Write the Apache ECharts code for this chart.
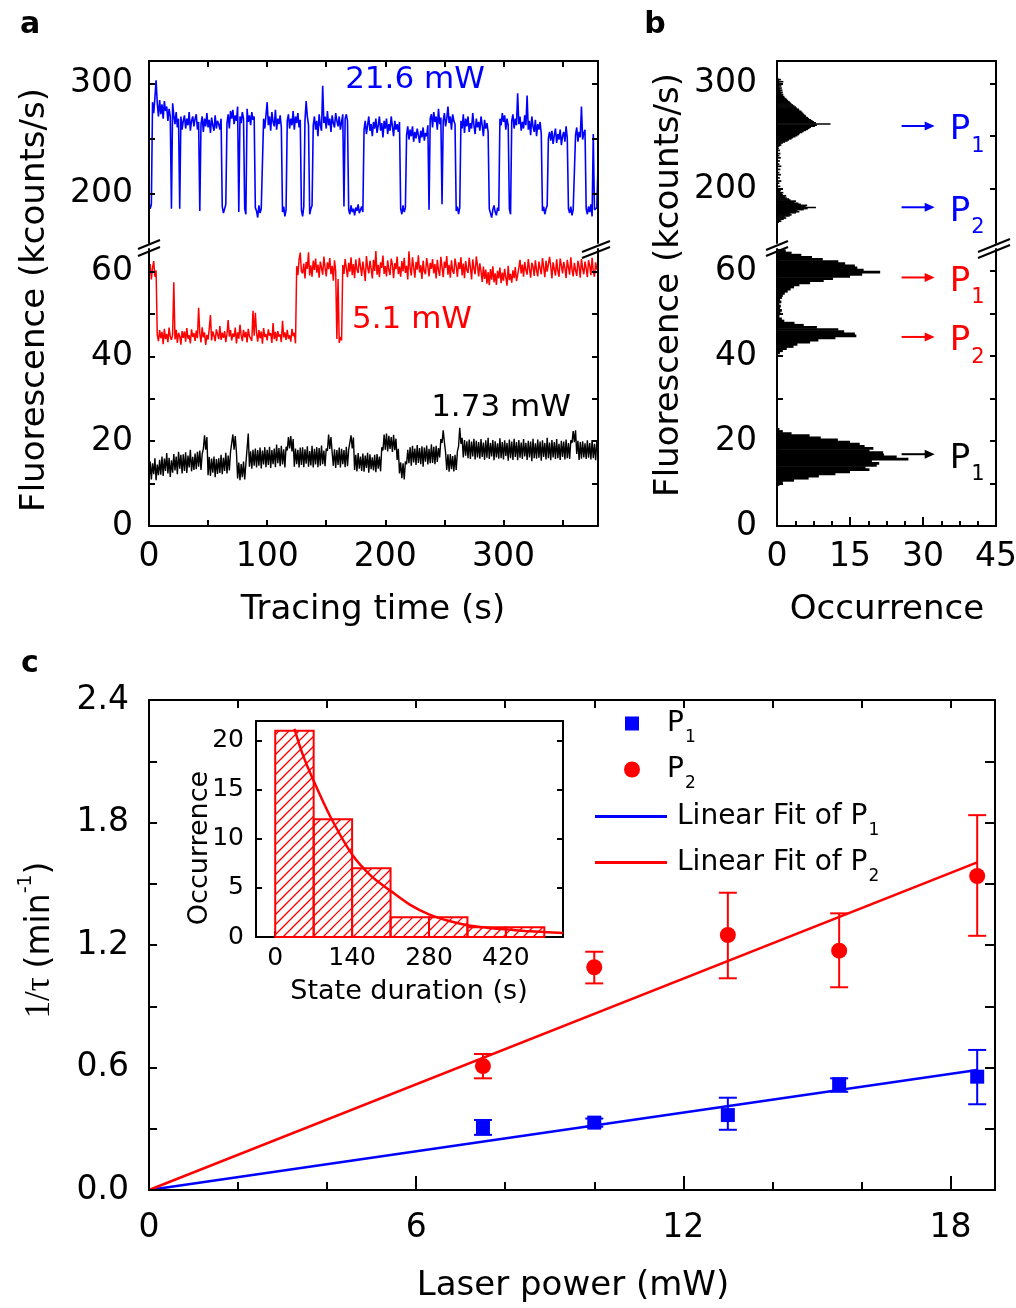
<!DOCTYPE html>
<html><head><meta charset="utf-8">
<script src="https://cdn.jsdelivr.net/npm/echarts@6/dist/echarts.min.js"></script>
<style>html,body{margin:0;padding:0;background:#fff}#c{width:1016px;height:1308px}</style>
</head><body><div id="c"></div>
<script>
// ---------------- DATA ----------------
// Panel a: fluorescence traces, one value per second (0..380 s)
const TRACE_DT = 1;
const blueTrace = [
192,186,190,283,273,287,303,282,270,285, 272,281,268,284,275,279,266,277,270,186,
282,271,263,274,260,268,186,270,258,266, 271,259,268,262,274,257,266,270,261,268,
272,258,265,184,263,270,256,268,261,273, 260,267,255,269,262,257,271,259,266,263,
258,268,188,182,186,190,264,272,259,275, 268,276,263,271,266,279,183,270,264,274,
268,186,181,277,265,271,262,274,267,270, 187,184,178,189,182,186,185,268,259,271,
283,262,270,257,274,265,261,276,258,268, 263,271,260,183,188,179,185,266,272,259,
268,262,275,258,270,264,273,260,267,185, 179,188,266,284,270,262,181,186,189,262,
270,258,266,252,272,262,257,298,264,270, 259,275,262,268,256,271,264,260,273,266,
261,270,258,265,272,188,268,272,266,185, 181,189,183,186,180,187,184,190,182,185,
188,183,258,266,254,262,270,257,263,252, 265,259,268,255,262,270,257,264,251,266,
259,268,254,263,257,270,261,252,266,258, 263,256,265,186,181,189,183,187,253,261,
249,258,252,261,247,256,250,259,253,246, 257,251,260,248,255,252,262,185,268,272,
260,274,265,270,258,277,263,269,190,266, 273,261,268,279,264,270,258,272,266,263,
184,188,181,187,266,259,272,255,268,261, 270,256,264,259,273,262,254,268,260,265,
257,270,262,252,267,259,264,256,186,182, 178,185,189,183,180,187,184,268,262,273,
265,271,258,268,262,186,181,266,272,259, 268,262,291,263,270,257,265,259,271,262,
289,258,266,253,270,261,256,267,252,263, 258,265,254,184,188,181,186,189,250,256,
248,257,245,253,259,246,254,249,258,244, 252,256,247,261,250,186,182,188,180,185,
184,253,260,247,256,251,279,249,255,258, 186,181,188,183,190,179,254,185,184,187,225];
const redTrace = [
59.5,61.8,58.2,60.9,62.5,58.8,60.3,45.1,43.6,46.2, 44.3,45.8,42.9,46.5,44.1,45.3,43.4,46.8,44.7,43.9,
45.2,57.5,44.0,46.3,43.2,45.6,44.8,42.8,46.0,44.4, 45.9,43.5,46.7,44.2,45.0,43.1,46.4,44.6,45.5,43.7,
46.1,44.3,51.5,45.4,43.3,46.9,44.5,45.7,42.7,45.1, 44.0,46.6,49.8,43.8,45.9,44.9,43.6,46.4,45.2,44.1,
47.2,43.9,45.6,44.4,46.0,43.4,45.3,48.6,44.7,46.2, 43.8,45.4,44.6,46.8,43.1,45.7,44.2,47.5,45.0,43.6,
46.3,44.5,45.8,43.3,46.5,44.8,45.1,43.7,50.8,44.9, 50.3,45.6,43.5,46.2,44.3,45.9,43.0,46.7,44.6,45.3,
43.8,46.4,44.9,45.5,43.2,47.9,44.1,45.8,43.6,46.0, 44.7,45.2,43.4,48.4,44.5,45.7,43.9,46.3,44.2,45.0,
43.5,46.5,44.8,45.6,43.1,61.3,59.2,62.8,64.5,60.1, 59.6,61.9,58.4,62.3,60.7,64.6,59.1,61.5,58.8,62.6,
60.4,63.1,59.8,61.7,58.6,62.4,60.9,59.3,63.6,61.0, 58.9,62.2,60.6,63.2,59.4,61.4,57.9,62.7,60.2,44.1,
58.3,43.2,44.6,43.8,61.6,59.5,63.0,60.8,58.7,62.1, 60.0,63.4,59.2,61.8,58.5,62.9,60.5,59.7,63.3,61.2,
59.0,62.4,60.3,57.8,63.7,61.1,59.6,62.6,60.7,58.4, 62.8,60.2,64.9,59.3,61.6,58.7,62.2,60.9,63.8,59.5,
61.3,58.9,62.7,60.4,59.2,63.1,61.7,58.5,62.0,60.6, 63.6,59.4,61.2,58.8,62.5,60.1,63.3,59.7,61.4,58.2,
64.8,60.8,59.1,63.4,61.0,58.6,62.3,60.5,63.9,59.8, 61.5,58.3,62.6,60.0,59.4,63.2,61.3,58.9,62.1,60.7,
63.0,59.6,61.8,58.4,62.8,60.3,59.0,63.5,61.1,58.7, 62.4,60.9,63.7,59.3,61.6,58.6,62.7,60.2,59.5,63.1,
61.4,58.8,62.2,60.6,63.4,59.1,61.9,58.5,62.5,60.4, 59.7,63.3,61.0,58.2,62.9,60.8,59.4,63.6,61.5,58.9,
62.0,60.1,57.6,61.2,58.3,60.5,57.2,59.9,56.8,60.6, 58.1,61.3,57.5,59.6,56.9,60.2,58.4,61.0,57.3,59.8,
57.9,60.7,58.6,56.7,61.4,58.0,59.5,57.4,60.3,58.5, 61.1,57.8,59.2,60.9,62.8,59.6,61.7,58.8,62.3,60.4,
59.3,63.0,60.7,58.6,62.1,61.2,59.0,62.7,60.3,58.9, 62.4,60.8,59.4,63.2,61.1,58.7,62.6,60.0,59.8,63.5,
61.3,58.4,62.2,60.6,59.1,62.9,60.2,58.8,63.1,61.5, 59.6,62.3,60.9,58.5,62.8,61.0,59.3,63.4,60.5,58.9,
62.1,60.4,59.0,62.6,61.2,58.6,63.0,60.7,59.4,62.4, 60.8,58.7,62.7,61.4,59.2,63.3,60.1,58.8,62.2,60.5,61.6];
const blackTrace = [
10.5,15.2,11.0,14.8,12.2,16.0,10.8,14.5,12.0,15.6, 12.1,16.4,11.8,15.9,13.0,17.2,12.4,16.1,11.6,15.5,
12.6,17.0,13.1,16.4,12.2,17.5,13.5,16.8,12.4,16.9, 13.0,17.4,12.5,16.6,13.8,18.0,12.9,16.3,13.2,17.1,
13.4,17.5,14.0,17.8,13.2,17.0,18.2,21.4,18.0,21.0, 12.0,16.3,11.8,15.9,12.6,16.4,11.5,15.8,12.3,16.0,
12.5,16.8,12.2,16.1,13.0,17.3,12.4,16.6,13.1,17.5, 17.5,21.6,18.0,21.2,17.4,11.2,15.0,10.8,14.6,11.5,
15.2,11.0,14.7,18.2,21.8,14.0,17.6,13.5,18.0,14.2, 18.3,13.8,17.9,14.2,18.5,13.6,17.8,14.5,18.6,13.9,
18.0,14.4,18.7,13.7,17.9,14.6,18.3,13.9,19.2,14.8, 18.4,14.1,18.9,14.5,18.1,13.8,18.7,17.8,21.0,18.3,
21.2,17.6,20.5,14.0,18.3,14.6,18.0,13.8,18.5,14.4, 18.6,13.9,18.1,14.7,18.8,14.0,17.7,14.3,18.9,13.8,
18.2,14.5,18.6,13.9,18.4,14.2,19.0,14.6,17.8,14.1, 18.3,17.7,21.6,18.2,21.0,17.4,14.2,18.1,13.7,17.9,
14.4,18.5,13.8,18.2,14.6,17.9,13.9,18.7,14.1,18.0, 18.0,21.4,18.3,20.9,13.2,16.8,12.9,17.2,13.5,16.4,
13.0,17.1,12.8,16.6,13.7,17.3,12.6,16.9,13.4,16.2, 13.1,16.8,12.7,17.0,13.5,16.4,12.9,18.6,17.8,21.6,
18.0,21.8,17.6,21.3,18.2,21.0,17.5,21.5,17.9,20.6, 15.6,18.2,12.4,15.0,11.3,14.8,11.0,15.2,14.6,18.0,
14.8,18.6,14.2,18.9,15.0,18.3,14.4,19.1,14.9,18.4, 14.6,18.8,14.0,18.5,15.2,19.0,14.5,18.2,14.8,19.3,
14.9,18.7,14.6,18.9,15.1,18.4,16.2,20.5,19.6,22.6, 19.8,17.4,13.2,16.9,12.8,17.0,13.4,16.5,12.9,16.8,
13.2,17.6,18.8,23.2,19.4,20.8,16.2,20.3,16.6,20.0, 16.0,20.4,15.8,19.9,16.4,20.6,15.7,20.1,16.2,19.8,
15.9,20.5,16.3,19.7,15.6,20.2,16.1,20.8,15.8,19.6, 16.4,20.3,15.5,20.0,16.2,19.5,15.9,20.7,16.0,19.8,
15.7,20.2,16.5,19.6,15.4,20.4,16.0,19.9,15.6,20.6, 16.3,19.8,15.5,20.3,16.1,19.7,15.8,20.5,16.4,19.6,
15.6,20.1,16.2,19.9,15.3,20.6,16.0,19.5,15.9,20.4, 16.1,19.9,15.4,20.2,16.3,19.6,15.7,20.8,16.0,19.7,
15.5,20.3,16.2,19.8,15.8,20.5,16.0,19.4,15.6,20.1, 16.3,19.9,15.7,20.4,16.0,19.6,15.8,20.2,19.6,22.4,
19.8,22.6,17.0,20.1,15.6,19.8,15.9,20.0,16.2,19.5, 15.8,20.2,16.1,19.6,15.7,20.3,16.0,19.4,15.5,19.9,17.6];

// Panel b: histograms (occurrence per fluorescence bin)
const histUpperStart = 168, histUpperBin = 1;
const histUpper = [
0.4,0.9,0.7,1.4,1.9,1.6,2.6,3.0,2.7,3.9,4.6,4.2,5.5,6.3,8.0,5.9,6.2,4.9,4.4,3.6,3.9,2.8,2.5,2.0,1.6,1.9,1.2,1.0,1.3,0.6,0.8,
0.4,0,0,0.7,0,0,0.5,0,0.9,0, 0,0.6,0,0,0.8,0,0.5,0,0,0.7, 0,0,0.9,0,0.5,0,0,0.6,0,0, 0.8,0,0.5,0,0.7,0,0,0.6,0,0.4, 0,
0.5,0.9,0.8,1.2,1.7,2.2,2.5,3.0,3.3,3.8, 4.2,4.5,4.7,5.2,5.5,6.0,6.4,6.7,7.0,7.8,
8.2,11.0,8.0,7.6,7.3,7.0,6.6,6.4,6.0,5.9, 5.6,5.4,5.2,5.0,4.6,4.5,4.1,3.9,3.6,3.3,
3.0,2.8,2.6,2.3,2.1,1.9,1.6,1.5,1.2,1.3, 0.9,1.2,0.7,1.1,0.6,1.0,0.5,0.9,0.4,0.8, 0.5,1.3,0.4,0.8,0.3];
const histLowBin = 0.5;
const histBlackStart = 9.5;
const histBlack = [0.5,1.2,3.5,6.5,8.6,12.0,15.0,19.0,18.2,20.5,21.0,19.5,27.0,24.6,22.0,21.8,19.0,19.8,18.0,17.0,15.0,12.5,9.0,6.7,3.0,1.2,0.5];
const histRedStart = 40.5;
const histRed = [0.6,1.2,2.0,3.4,4.2,6.8,8.5,12.0,16.3,16.0,13.8,12.6,8.2,5.5,3.6,1.5,1.0,0.5,
0.5,0.7,1.0,0.6,0.8,0.5,0.9,0.6,1.0,1.2,1.6,2.2,2.8,3.5,4.6,6.8,9.6,11.5,15.0,17.5,21.2,17.8,16.5,16.0,14.0,12.6,9.4,7.2,5.0,3.0,1.8,0.9];
// Panel b: arrow annotations
const ARROW_X = [25.6, 32.4];
const ARROW_LABEL_X = 35.5;
const arrowUpperY = [259.6, 182.7];
const arrowUpperSub = ['1', '2'];
const arrowUpperColor = ['#0000ff', '#0000ff'];
const arrowLowerY = [58.5, 44.5, 16.9];
const arrowLowerSub = ['1', '2', '1'];
const arrowLowerColor = ['#ff0000', '#ff0000', '#000000'];

// Panel c: 1/tau vs laser power
const laserPower = [7.5, 10.0, 13.0, 15.5, 18.6];
const p1Rate = [0.305, 0.330, 0.367, 0.518, 0.555];
const p1Low  = [0.270, 0.310, 0.295, 0.481, 0.420];
const p1High = [0.343, 0.350, 0.452, 0.547, 0.686];
const p2Rate = [0.607, 1.091, 1.249, 1.172, 1.538];
const p2Low  = [0.547, 1.012, 1.037, 0.993, 1.245];
const p2High = [0.666, 1.167, 1.456, 1.355, 1.836];
const fitP1 = [[0, 0], [18.6, 0.588]];
const fitP2 = [[0, 0], [18.6, 1.605]];
// Inset: state duration histogram + exponential fit
const insetBinStart = [0, 70, 140, 210, 280, 350, 420];
const INSET_BIN = 70;
const insetCounts = [21, 12, 7, 2, 2, 1, 1];
const expFitT = [35, 50, 70, 100, 140, 175, 210, 245, 280, 315, 350, 385, 420, 455, 490, 524];
const expFitN = [21.2, 18.6, 15.9, 12.3, 8.4, 6.2, 4.7, 3.3, 2.3, 1.65, 1.2, 0.95, 0.78, 0.62, 0.5, 0.4];

// Tick values
const aTimeLabels = [0, 100, 200, 300];
const aTimeTicks = [0, 50, 100, 150, 200, 250, 300, 350];
const upperLabels = [200, 300];
const upperTicks = [200, 250, 300];
const lowerLabels = [0, 20, 40, 60];
const lowerTicks = [0, 10, 20, 30, 40, 50, 60];
const bOccLabels = [0, 15, 30, 45];
const bOccMinor = [3.75, 7.5, 11.25, 18.75, 22.5, 26.25, 33.75, 37.5, 41.25];
const cPowerLabels = [0, 6, 12, 18];
const cPowerMinor = [2, 4, 8, 10, 14, 16];
const cPowerTop = [2, 4, 6, 8, 10, 12, 14, 16, 18];
const cRateLabels = [0, 0.6, 1.2, 1.8, 2.4];
const cRateTicks = [0, 0.3, 0.6, 0.9, 1.2, 1.5, 1.8, 2.1, 2.4];
const insetTimeLabels = [0, 140, 280, 420];
const insetOccLabels = [0, 5, 10, 15, 20];

// ---------------- CHART ----------------
const FONT = 'DejaVu Sans';
const TICK_FS = 33;
const BLUE = '#0000ff', RED = '#ff0000';

function mkAxis(o) {
  const ax = {
    type: 'value', gridIndex: o.grid, position: o.pos, min: o.min, max: o.max,
    axisLine: {show: true, onZero: false, lineStyle: {color: '#000', width: 2}},
    axisTick: {show: !!o.ticks, inside: true, length: o.tickLen || 6, lineStyle: {color: '#000', width: 2}},
    axisLabel: {show: !!o.labels, color: '#000', fontFamily: FONT, fontSize: o.fs || TICK_FS, margin: o.margin || 14},
    splitLine: {show: false}, minorTick: {show: false}, silent: true, z: 5
  };
  if (o.ticks) ax.axisTick.customValues = o.ticks;
  if (o.labels) ax.axisLabel.customValues = o.labels;
  if (o.fmt) ax.axisLabel.formatter = o.fmt;
  return ax;
}

const grids = [
  {left: 149, top: 61, width: 449, height: 182},
  {left: 149, top: 249, width: 449, height: 277},
  {left: 777, top: 61, width: 219, height: 182},
  {left: 777, top: 249, width: 219, height: 277},
  {left: 149, top: 700, width: 846, height: 490},
  {left: 256, top: 721, width: 307, height: 216}
].map(g => Object.assign({containLabel: false, outerBoundsMode: 'none'}, g));

const xAxes = [
  mkAxis({grid: 0, pos: 'top', min: 0, max: 380, ticks: aTimeTicks}),
  mkAxis({grid: 1, pos: 'bottom', min: 0, max: 380, ticks: aTimeTicks, labels: aTimeLabels, margin: 15}),
  mkAxis({grid: 2, pos: 'top', min: 0, max: 45}),
  mkAxis({grid: 3, pos: 'bottom', min: 0, max: 45, ticks: bOccLabels, labels: bOccLabels, tickLen: 9, margin: 15}),
  mkAxis({grid: 3, pos: 'bottom', min: 0, max: 45, ticks: bOccMinor, tickLen: 5}),
  mkAxis({grid: 4, pos: 'bottom', min: 0, max: 19, ticks: cPowerLabels, labels: cPowerLabels, tickLen: 14, margin: 22}),
  mkAxis({grid: 4, pos: 'bottom', min: 0, max: 19, ticks: cPowerMinor, tickLen: 8}),
  mkAxis({grid: 4, pos: 'top', min: 0, max: 19, ticks: cPowerTop, tickLen: 8}),
  mkAxis({grid: 5, pos: 'bottom', min: -35, max: 524, ticks: insetTimeLabels, labels: insetTimeLabels, fs: 25, margin: 9}),
  mkAxis({grid: 5, pos: 'top', min: -35, max: 524})
];
const yAxes = [
  mkAxis({grid: 0, pos: 'left', min: 154.8, max: 320.5, ticks: upperTicks, labels: upperLabels, margin: 16}),
  mkAxis({grid: 0, pos: 'right', min: 154.8, max: 320.5, ticks: upperTicks}),
  mkAxis({grid: 1, pos: 'left', min: 0, max: 65.36, ticks: lowerTicks, labels: lowerLabels, margin: 16}),
  mkAxis({grid: 1, pos: 'right', min: 0, max: 65.36, ticks: lowerTicks}),
  mkAxis({grid: 2, pos: 'left', min: 148.9, max: 321.1, ticks: upperTicks, labels: upperLabels, margin: 20}),
  mkAxis({grid: 2, pos: 'right', min: 148.9, max: 321.1, ticks: upperTicks}),
  mkAxis({grid: 3, pos: 'left', min: 0, max: 65.2, ticks: lowerTicks, labels: lowerLabels, margin: 20}),
  mkAxis({grid: 3, pos: 'right', min: 0, max: 65.2, ticks: lowerTicks}),
  mkAxis({grid: 4, pos: 'left', min: 0, max: 2.4, ticks: cRateTicks, labels: cRateLabels, tickLen: 8, margin: 20, fmt: v => Number(v).toFixed(1)}),
  mkAxis({grid: 4, pos: 'right', min: 0, max: 2.4, ticks: cRateTicks, tickLen: 10}),
  mkAxis({grid: 5, pos: 'left', min: 0, max: 22, ticks: insetOccLabels, labels: insetOccLabels, fs: 25, margin: 12}),
  mkAxis({grid: 5, pos: 'right', min: 0, max: 22, ticks: insetOccLabels})
];

function traceSeries(name, arr, xi, yi, color, w) {
  return {type: 'line', name, xAxisIndex: xi, yAxisIndex: yi,
    data: arr.map((v, i) => [i * TRACE_DT, v]), symbol: 'none', showSymbol: false,
    lineStyle: {color, width: w}, itemStyle: {color}, silent: true, clip: true, z: 3};
}
function histSeries(name, xi, yi, start, bin, counts) {
  return {type: 'custom', name, xAxisIndex: xi, yAxisIndex: yi, clip: true, silent: true,
    data: counts.map((n, i) => [start + i * bin, n]), encode: {x: 1, y: 0},
    renderItem: (p, api) => {
      const y0 = api.value(0), n = api.value(1);
      if (!(n > 0)) return null;
      const a = api.coord([0, y0]), b = api.coord([n, y0 + bin]);
      return {type: 'rect', shape: {x: a[0], y: b[1] - 0.3, width: b[0] - a[0], height: a[1] - b[1] + 0.6}, style: {fill: '#000'}};
    }};
}
function arrowSeries(name, xi, yi, ys, subs, cols) {
  return {type: 'custom', name, xAxisIndex: xi, yAxisIndex: yi, silent: true, clip: false,
    data: ys.map(y => [y]), encode: {y: 0},
    renderItem: (p, api) => {
      const y = api.value(0), i = p.dataIndex, col = cols[i];
      const a = api.coord([ARROW_X[0], y]), b = api.coord([ARROW_X[1], y]), t = api.coord([ARROW_LABEL_X, y]);
      return {type: 'group', children: [
        {type: 'line', shape: {x1: a[0], y1: a[1], x2: b[0] - 6, y2: b[1]}, style: {stroke: col, lineWidth: 2}},
        {type: 'polygon', shape: {points: [[b[0], b[1]], [b[0] - 10, b[1] - 4.5], [b[0] - 10, b[1] + 4.5]]}, style: {fill: col}},
        {type: 'text', x: t[0], y: t[1] + 4.5, style: {
          text: '{n|P}{s|' + subs[i] + '}', fill: col, align: 'left', verticalAlign: 'middle',
          rich: {n: {fontFamily: FONT, fontSize: 34, lineHeight: 40, fill: col},
                 s: {fontFamily: FONT, fontSize: 21, lineHeight: 40, padding: [32, 0, 0, 1], fill: col}}}}
      ]};
    }};
}
function errSeries(name, lo, hi, color) {
  return {type: 'custom', name, xAxisIndex: 5, yAxisIndex: 8, silent: true, z: 3,
    data: laserPower.map((x, i) => [x, lo[i], hi[i]]), encode: {x: 0, y: [1, 2]},
    renderItem: (p, api) => {
      const x = api.value(0), a = api.coord([x, api.value(1)]), b = api.coord([x, api.value(2)]), w = 9;
      const st = {stroke: color, lineWidth: 2};
      return {type: 'group', children: [
        {type: 'line', shape: {x1: a[0], y1: a[1], x2: b[0], y2: b[1]}, style: st},
        {type: 'line', shape: {x1: a[0] - w, y1: a[1], x2: a[0] + w, y2: a[1]}, style: st},
        {type: 'line', shape: {x1: b[0] - w, y1: b[1], x2: b[0] + w, y2: b[1]}, style: st}
      ]};
    }};
}

const series = [
  traceSeries('blueTrace', blueTrace, 0, 0, BLUE, 1.6),
  traceSeries('redTrace', redTrace, 1, 2, RED, 1.5),
  traceSeries('blackTrace', blackTrace, 1, 2, '#000', 1.4),
  histSeries('histUpper', 2, 4, histUpperStart, histUpperBin, histUpper),
  histSeries('histBlack', 3, 6, histBlackStart, histLowBin, histBlack),
  histSeries('histRed', 3, 6, histRedStart, histLowBin, histRed),
  arrowSeries('arrowsUpper', 2, 4, arrowUpperY, arrowUpperSub, arrowUpperColor),
  arrowSeries('arrowsLower', 3, 6, arrowLowerY, arrowLowerSub, arrowLowerColor),
  {type: 'line', name: 'Linear Fit of P1', xAxisIndex: 5, yAxisIndex: 8, data: fitP1, symbol: 'none',
    lineStyle: {color: BLUE, width: 2.5}, itemStyle: {color: BLUE}, z: 2, silent: true},
  {type: 'line', name: 'Linear Fit of P2', xAxisIndex: 5, yAxisIndex: 8, data: fitP2, symbol: 'none',
    lineStyle: {color: RED, width: 2.5}, itemStyle: {color: RED}, z: 2, silent: true},
  errSeries('errP1', p1Low, p1High, BLUE),
  errSeries('errP2', p2Low, p2High, RED),
  {type: 'scatter', name: 'P1', xAxisIndex: 5, yAxisIndex: 8, symbol: 'rect', symbolSize: 14,
    data: laserPower.map((x, i) => [x, p1Rate[i]]), itemStyle: {color: BLUE, opacity: 1}, z: 4, silent: true},
  {type: 'scatter', name: 'P2', xAxisIndex: 5, yAxisIndex: 8, symbol: 'circle', symbolSize: 16,
    data: laserPower.map((x, i) => [x, p2Rate[i]]), itemStyle: {color: RED, opacity: 1}, z: 4, silent: true},
  {type: 'custom', name: 'insetBars', xAxisIndex: 8, yAxisIndex: 10, silent: true, z: 6, clip: false,
    data: insetBinStart.map((x, i) => [x, insetCounts[i]]), encode: {x: 0, y: 1},
    renderItem: (p, api) => {
      const x0 = api.value(0), n = api.value(1);
      const a = api.coord([x0, 0]), b = api.coord([x0 + INSET_BIN, n]);
      const L = a[0], R = b[0], T = b[1], B = a[1], step = 10, ch = [];
      for (let c = Math.ceil((L + T) / step) * step; c < R + B; c += step) {
        const xa = Math.max(L, c - B), xb = Math.min(R, c - T);
        if (xb > xa) ch.push({type: 'line', shape: {x1: xa, y1: c - xa, x2: xb, y2: c - xb}, style: {stroke: RED, lineWidth: 1.3}});
      }
      ch.push({type: 'rect', shape: {x: L, y: T, width: R - L, height: B - T}, style: {fill: 'none', stroke: RED, lineWidth: 2}});
      return {type: 'group', children: ch};
    }},
  {type: 'line', name: 'insetFit', xAxisIndex: 8, yAxisIndex: 10, data: expFitT.map((t, i) => [t, expFitN[i]]),
    symbol: 'none', smooth: 0.3, lineStyle: {color: RED, width: 2.5}, z: 7, silent: true}
];

const legRich = {
  n: {fontFamily: FONT, fontSize: 28, lineHeight: 34, color: '#000'},
  s: {fontFamily: FONT, fontSize: 17, lineHeight: 34, padding: [29, 0, 0, 1], color: '#000'},
  g1: {width: 23}, g2: {width: 22}, g3: {width: 5}
};
function legFmt(gap) {
  return name => { const m = name.match(/^(.*P)(\d)$/); return '{' + gap + '| }{n|' + m[1] + '}{s|' + m[2] + '}'; };
}
function mkLegend(name, left, cy, w, h, gap, icon) {
  return {data: [icon ? {name, icon} : name], left, top: cy - 21.5, orient: 'vertical', padding: 0, itemWidth: w, itemHeight: h,
    selectedMode: false, formatter: legFmt(gap), textStyle: {rich: legRich}};
}

function txt(x, y, text, size, opts) {
  opts = opts || {};
  return Object.assign({type: 'text', x, y, z: 100, silent: true,
    style: Object.assign({text, fontFamily: opts.family || FONT, fontSize: size, fontWeight: opts.weight || 'normal',
      fill: opts.color || '#000', align: 'center', verticalAlign: 'middle', textAlign: 'center', textVerticalAlign: 'middle'},
      opts.rich ? {rich: opts.rich} : {})}, opts.rot ? {rotation: opts.rot} : {});
}
function ln(x1, y1, x2, y2) {
  return {type: 'line', z: 100, silent: true, shape: {x1, y1, x2, y2}, style: {stroke: '#000', lineWidth: 2}};
}
const R90 = Math.PI / 2;
const graphics = [
  txt(30, 25, 'a', 30, {weight: 'bold'}),
  txt(655, 25, 'b', 30, {weight: 'bold'}),
  txt(30, 664, 'c', 30, {weight: 'bold'}),
  txt(35, 300, 'Fluorescence (kcounts/s)', 34, {rot: R90}),
  txt(669, 285, 'Fluorescence (kcounts/s)', 34, {rot: R90}),
  txt(373, 610, 'Tracing time (s)', 34),
  txt(887, 610, 'Occurrence', 34),
  txt(573, 1286, 'Laser power (mW)', 34),
  txt(40, 940, '{a|1/τ }{b|(min}{sup|-1}{b|)}', 33, {rot: R90, rich: {
    a: {fontFamily: 'Liberation Serif', fontSize: 35, lineHeight: 38, fill: '#000'},
    b: {fontFamily: FONT, fontSize: 33, lineHeight: 38, fill: '#000'},
    sup: {fontFamily: FONT, fontSize: 19, lineHeight: 19, padding: [0, 0, 28, 0], fill: '#000'}}}),
  txt(409, 992, 'State duration (s)', 27),
  txt(200, 848, 'Occurrence', 27, {rot: R90}),
  txt(415, 80, '21.6 mW', 31, {color: BLUE}),
  txt(412, 320, '5.1 mW', 31, {color: RED}),
  txt(501, 408, '1.73 mW', 31),
  // axis-break marks
  ln(138, 249, 160, 240), ln(138, 256, 160, 247),
  ln(582, 252, 610, 241), ln(582, 258, 610, 247),
  ln(766, 250, 788, 241), ln(766, 256, 788, 247),
  ln(978, 252, 1010, 239), ln(978, 258, 1010, 245)
];

const chart = echarts.init(document.getElementById('c'), null, {renderer: 'canvas', width: 1016, height: 1308});
chart.setOption({
  animation: false,
  backgroundColor: '#fff',
  textStyle: {fontFamily: FONT},
  grid: grids, xAxis: xAxes, yAxis: yAxes, series,
  legend: [
    mkLegend('P1', 625, 722, 14, 14, 'g1'),
    mkLegend('P2', 624, 768, 16, 16, 'g2'),
    mkLegend('Linear Fit of P1', 595, 815, 72, 3, 'g3', 'rect'),
    mkLegend('Linear Fit of P2', 595, 861, 72, 3, 'g3', 'rect')
  ],
  graphic: graphics
});
</script></body></html>
